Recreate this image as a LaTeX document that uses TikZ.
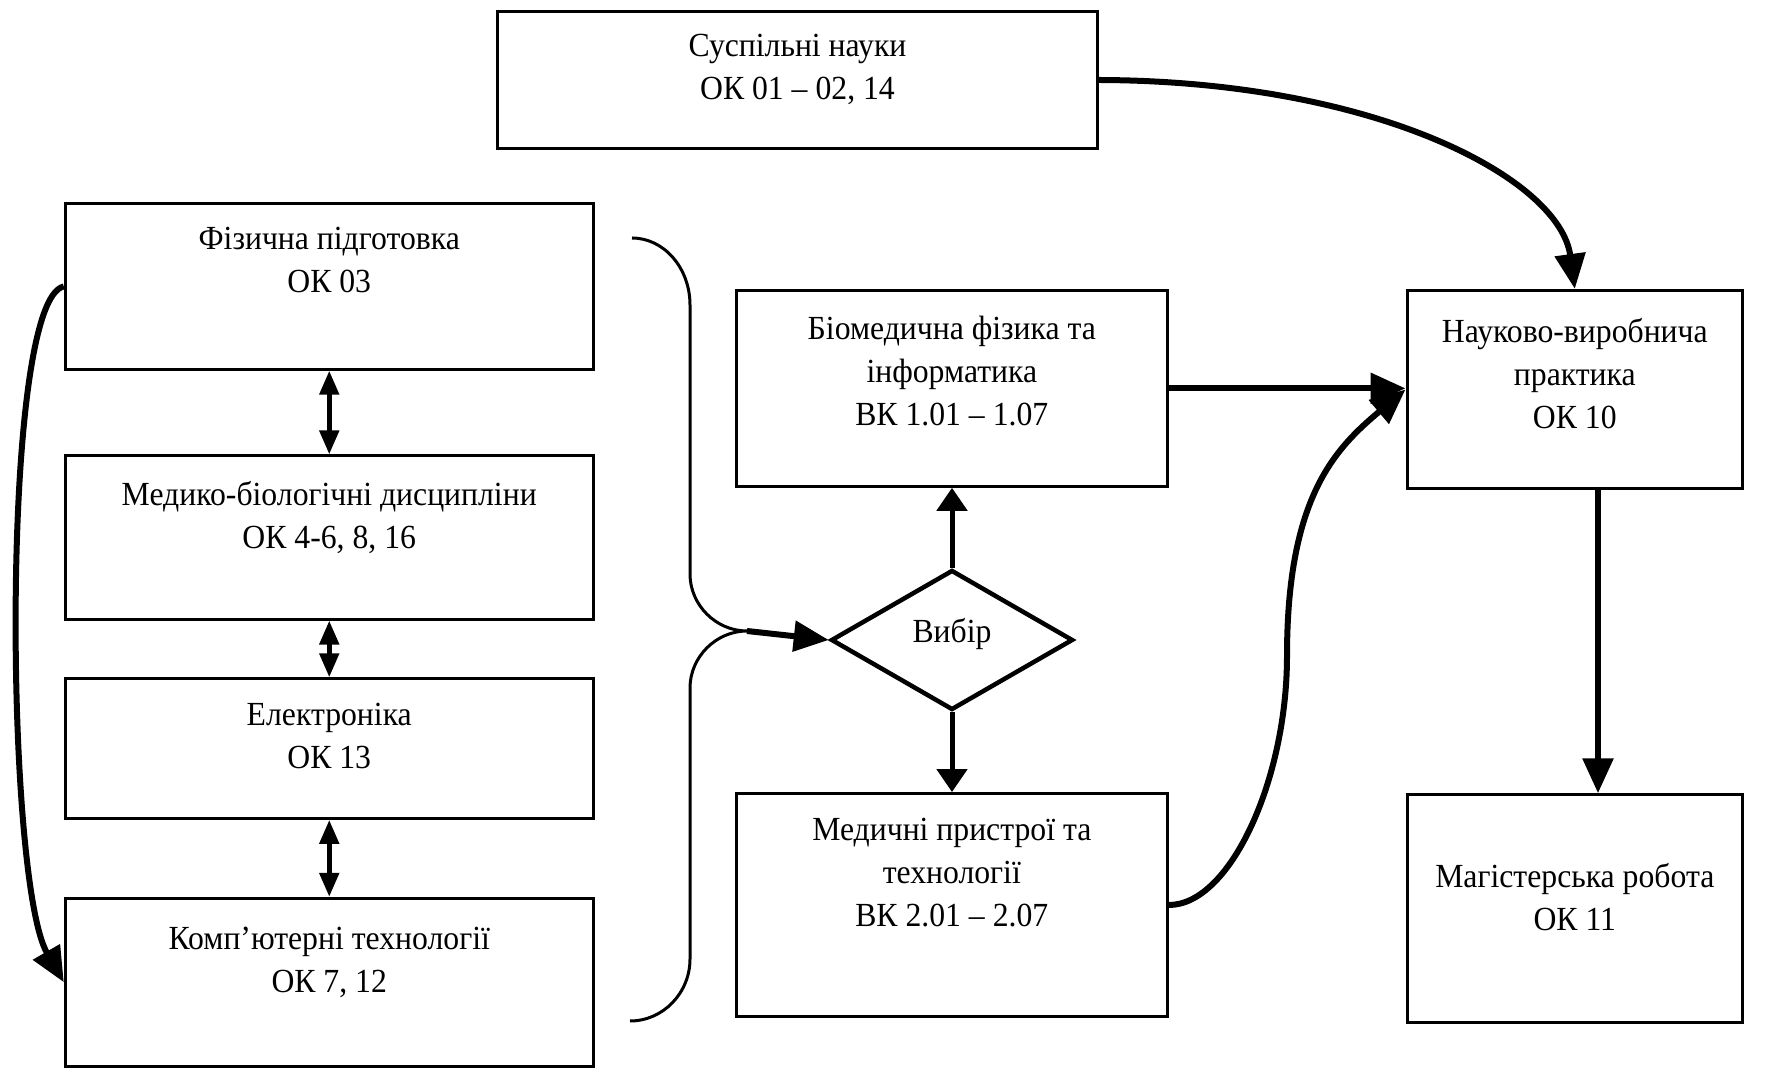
\documentclass[tikz,border=0pt]{standalone}
\usepackage{fontspec}
\setmainfont{Liberation Serif}[FakeStretch=0.94]
\usetikzlibrary{arrows.meta,shapes.geometric}
\begin{document}
\begin{tikzpicture}[x=0.1mm,y=-0.1mm,
  box/.style={draw,line width=0.3mm,rectangle,inner sep=0pt},
  txt/.style={align=center,anchor=north,inner sep=0pt,font=\fontsize{9.6}{12.2}\selectfont,execute at begin node=\strut},
  arr/.style={line width=0.6mm,-{Triangle[length=3.5mm,width=3mm]}},
  varr/.style={line width=0.5mm,-{Triangle[length=2.3mm,width=3mm]}},
  darr/.style={line width=0.5mm,{Triangle[length=2.4mm,width=1.9mm]}-{Triangle[length=2.4mm,width=1.9mm]}},
  thinline/.style={line width=0.3mm}]
\fill[white] (0,0) rectangle (1765,1068);
\useasboundingbox (0,0) rectangle (1765,1068);
% boxes
\node[box,minimum width=59.99mm,minimum height=13.73mm] (sus) at (797.5,80) {};
\node[box,minimum width=52.79mm,minimum height=16.55mm] (fiz) at (329.25,286.45) {};
\node[box,minimum width=52.79mm,minimum height=16.32mm] (mbd) at (329.25,537.5) {};
\node[box,minimum width=52.79mm,minimum height=13.96mm] (el) at (329.25,748.6) {};
\node[box,minimum width=52.79mm,minimum height=16.77mm] (comp) at (329.25,982.2) {};
\node[box,minimum width=43.12mm,minimum height=19.59mm] (bio) at (951.8,388.35) {};
\node[box,minimum width=43.12mm,minimum height=22.29mm] (med) at (951.8,905) {};
\node[box,minimum width=33.56mm,minimum height=19.82mm] (nauk) at (1574.8,389.5) {};
\node[box,minimum width=33.56mm,minimum height=22.73mm] (mag) at (1574.8,908.4) {};
\node[draw,shape=diamond,line width=0.45mm,minimum width=24.2mm,minimum height=14mm,inner sep=0pt] (vib) at (952,640) {};
% texts
\node[anchor=base,inner sep=0pt,font=\fontsize{9.6}{12.2}\selectfont] (tvib) at (952,643) {Вибір};
\node[txt] (tsus) at (797.5,33.4) {Суспільні науки\\ОК 01 – 02, 14};
\node[txt] (tfiz) at (329.25,226.4) {Фізична підготовка\\ОК 03};
\node[txt] (tmbd) at (329.25,480.4) {Медико-біологічні дисципліни\\ОК 4-6, 8, 16};
\node[txt] (tel) at (329.25,702.4) {Електроніка\\ОК 13};
\node[txt] (tcomp) at (329.25,926.4) {Комп’ютерні технології\\ОК 7, 12};
\node[txt] (tbio) at (951.8,315.4) {Біомедична фізика та\\інформатика\\ВК 1.01 – 1.07};
\node[txt] (tmed) at (951.8,817.4) {Медичні пристрої та\\технології\\ВК 2.01 – 2.07};
\node[txt] (tnauk) at (1574.8,317.4) {Науково-виробнича\\практика\\ОК 10};
\node[txt] (tmag) at (1574.8,862.4) {Магістерська робота\\ОК 11};
% double arrows
\draw[darr] (fiz.south) -- (mbd.north);
\draw[darr] (mbd.south) -- (el.north);
\draw[darr] (el.south) -- (comp.north);
% left curve
\draw[arr] (fiz.west) .. controls (0,300) and (5,880) .. (comp.west);
% brace
\coordinate (bt) at (632,238);
\coordinate (j) at (747,631);
\coordinate (bb) at (630,1021);
\draw[thinline] (bt) .. controls (664,238) and (690,268) .. (690,305) -- (690,574)
  .. controls (690,605) and (716,631) .. (j)
  .. controls (716,631) and (690,657) .. (690,688) -- (690,959)
  .. controls (690,993) and (663,1021) .. (bb);
\draw[arr] (j) -- (vib.west);
% diamond arrows
\draw[varr] (vib.north) -- (vib.north |- bio.south);
\draw[varr] (vib.south) -- (vib.south |- med.north);
% to practice
\draw[arr] (sus.east) .. controls (1380,81) and (1560,180) .. (nauk.north);
\draw[arr] (bio.east) -- (bio.east -| nauk.west);
\draw[arr] (med.east) .. controls (1230,905) and (1287,780) .. (1287,656)
  .. controls (1287,496) and (1336,448) .. (nauk.west);
\draw[arr] ([xshift=2.32mm]nauk.south) -- ([xshift=2.32mm]nauk.south |- mag.north);
\end{tikzpicture}
\end{document}
